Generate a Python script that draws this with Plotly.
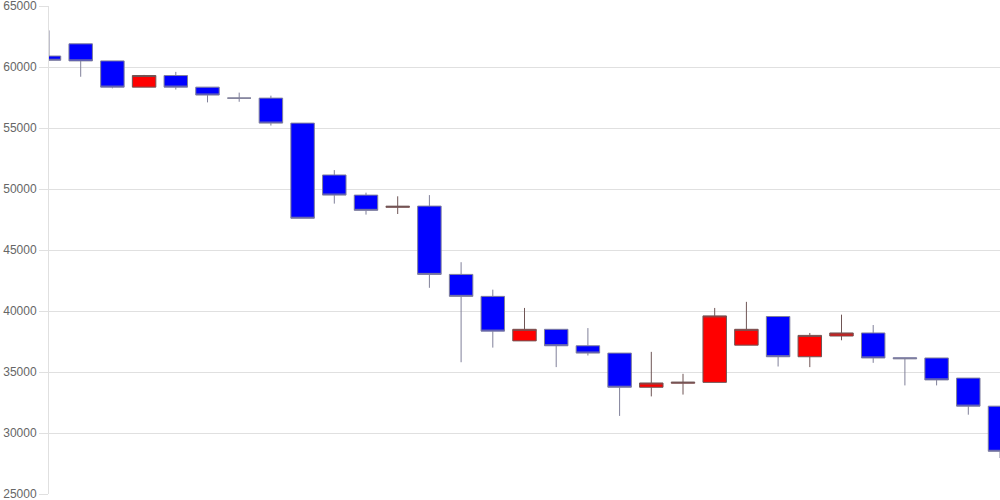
import plotly.graph_objects as go

days = list(range(31))
opens = [60900, 61900, 60500, 58350, 59300, 58350, 57450, 57450, 55400, 51150,
         49500, 48500, 48600, 43000, 41200, 37550, 38500, 37150, 36550, 33750,
         34080, 34150, 37200, 39550, 36250, 37950, 38200, 36170, 36150, 34500,
         32200]
highs = [63000, 61900, 60500, 59350, 59600, 58350, 57900, 57650, 55400, 51550,
         49700, 49400, 49500, 44000, 41750, 40250, 38500, 38600, 36550, 36650,
         34850, 40250, 40750, 39550, 38200, 39700, 38850, 36170, 36150, 34500,
         32200]
lows = [60500, 59200, 58250, 58350, 58150, 57100, 57150, 55200, 47600, 48800,
        47900, 47950, 41900, 35800, 37000, 37550, 35400, 36350, 31400, 33000,
        33150, 34150, 37200, 35450, 35400, 37600, 35750, 33900, 33900, 31500,
        27950]
closes = [60550, 60500, 58350, 59300, 58350, 57700, 57450, 55400, 47600, 49500,
          48250, 48580, 43000, 41200, 38350, 38500, 37150, 36550, 33750, 34100,
          34160, 39600, 38500, 36250, 38000, 38200, 36150, 36090, 34350, 32200,
          28500]

fig = go.Figure(go.Candlestick(
    x=days,
    open=opens,
    high=highs,
    low=lows,
    close=closes,
    increasing=dict(fillcolor='#ff0000', line=dict(color='#6f5555', width=1)),
    decreasing=dict(fillcolor='#0000ff', line=dict(color='#80809a', width=1)),
    whiskerwidth=0,
))

fig.update_layout(
    width=1000,
    height=500,
    margin=dict(l=49, r=0, t=6, b=6, autoexpand=False),
    paper_bgcolor='white',
    plot_bgcolor='white',
    showlegend=False,
    boxgap=0.26,
    boxgroupgap=0,
    font=dict(family='Liberation Sans, Arial, sans-serif', size=12, color='#666666'),
    xaxis=dict(
        range=[0, 30],
        showgrid=False,
        showticklabels=False,
        zeroline=False,
        showline=False,
        rangeslider=dict(visible=False),
    ),
    yaxis=dict(
        range=[25000, 65000],
        dtick=5000,
        tickformat='d',
        gridcolor='#e0e0e0',
        showline=True,
        linecolor='#e0e0e0',
        ticks='outside',
        ticklen=9,
        tickcolor='#e0e0e0',
        zeroline=False,
        ticklabeloverflow='allow',
    ),
)

# the page body has a default 8px margin; drop it so the chart fills the window
fig.write_html("out.html", config={'displayModeBar': False},
               post_script="document.body.style.margin='0';")
